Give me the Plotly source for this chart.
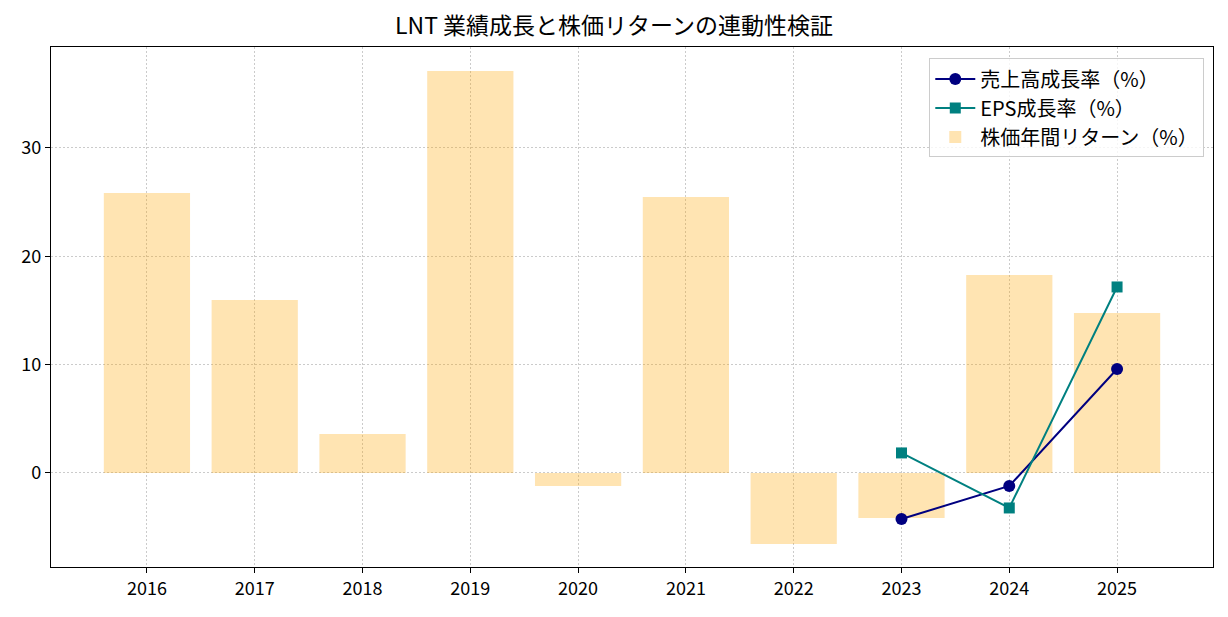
import plotly.graph_objects as go

years = [2016, 2017, 2018, 2019, 2020, 2021, 2022, 2023, 2024, 2025]
stock_return = [25.85, 15.97, 3.6, 37.1, -1.2, 25.48, -6.55, -4.15, 18.28, 14.77]
line_years = [2023, 2024, 2025]
revenue_growth = [-4.25, -1.2, 9.6]
eps_growth = [1.85, -3.23, 17.17]

FONT = "Noto Sans CJK JP"

fig = go.Figure()
fig.add_trace(go.Scatter(
    x=line_years, y=revenue_growth, mode="lines+markers",
    line=dict(color="#000080", width=2),
    marker=dict(symbol="circle", size=12, color="#000080"),
    name="売上高成長率（%）",
))
fig.add_trace(go.Scatter(
    x=line_years, y=eps_growth, mode="lines+markers",
    line=dict(color="#008080", width=2),
    marker=dict(symbol="square", size=11, color="#008080"),
    name="EPS成長率（%）",
))
fig.add_trace(go.Bar(
    x=years, y=stock_return, width=0.8,
    marker=dict(color="rgba(255,165,0,0.3)", line=dict(width=0)),
    name="株価年間リターン（%）",
))

axis_common = dict(
    showline=True, linecolor="black", linewidth=1.2, mirror=True,
    ticks="outside", ticklen=5, tickcolor="black", tickwidth=1.2,
    showgrid=True, gridcolor="rgba(190,190,190,0.8)", griddash="1.5px,2.5px", gridwidth=1,
    zeroline=False, tickfont=dict(family=FONT, size=18, color="black"),
)

fig.update_layout(
    width=1228, height=617,
    margin=dict(l=51, r=15, t=47, b=50),
    paper_bgcolor="white", plot_bgcolor="white",
    font=dict(family=FONT, color="black"),
    title=dict(text="LNT 業績成長と株価リターンの連動性検証", x=0.5, xanchor="center",
               y=0.958, yanchor="middle", font=dict(family=FONT, size=23, color="black")),
    xaxis=dict(range=[2015.11, 2025.89], tickmode="array", tickvals=years,
               ticktext=[str(y) for y in years], **axis_common),
    yaxis=dict(range=[-8.68, 39.32], tickvals=[0, 10, 20, 30], **axis_common),
    legend=dict(x=0.9925, y=0.978, xanchor="right", yanchor="top",
                bgcolor="rgba(255,255,255,0.8)", bordercolor="#cccccc", borderwidth=1,
                font=dict(family=FONT, size=20, color="black"),
                traceorder="normal", itemwidth=40, tracegroupgap=0),
    showlegend=True,
    bargap=0.2,
)

fig.write_html("out.html")
